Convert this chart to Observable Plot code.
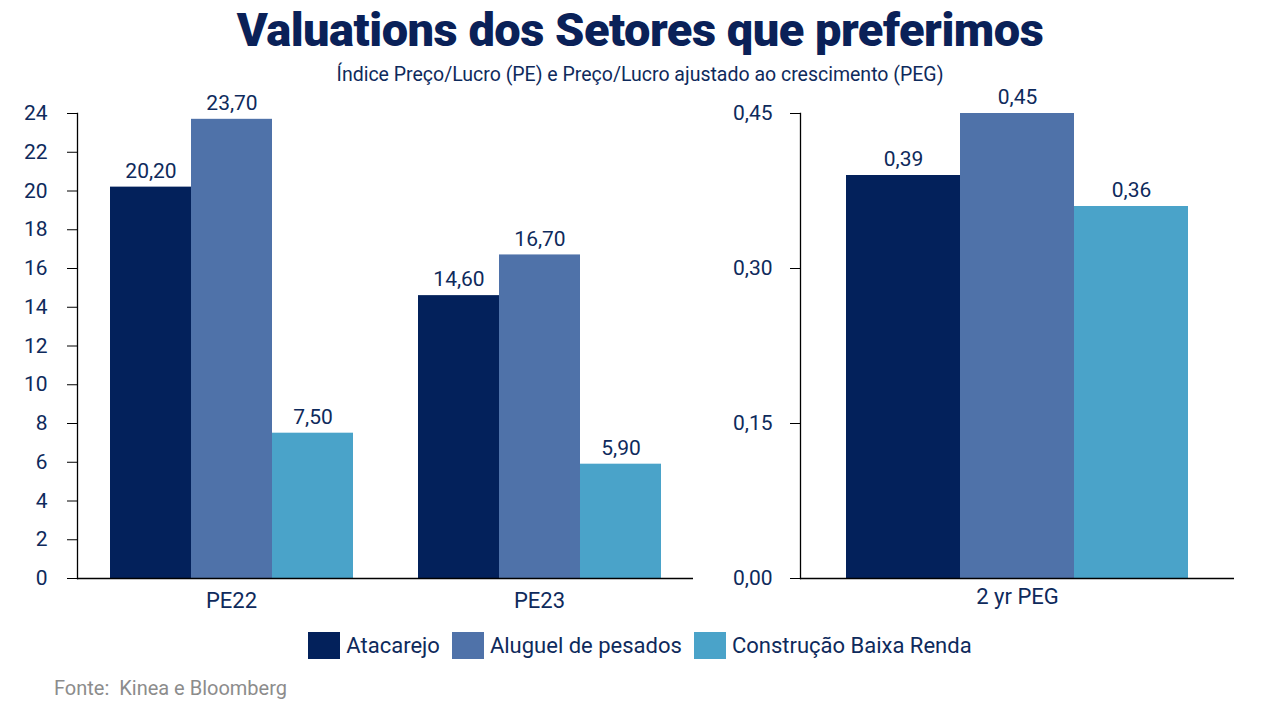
<!DOCTYPE html>
<html>
<head>
<meta charset="utf-8">
<script src="https://cdn.jsdelivr.net/npm/d3@7"></script>
<script src="https://cdn.jsdelivr.net/npm/@observablehq/plot@0.6"></script>
<style>
  html, body { margin: 0; padding: 0; background: #fff; }
  #root { position: relative; width: 1280px; height: 720px; overflow: hidden; font-family: Roboto, sans-serif; color: #0e2a5c; }
  #title { position: absolute; left: 0; width: 1280px; top: 2px; text-align: center; font-size: 47px; font-weight: 900; color: #0a2158; letter-spacing: -0.5px; }
  #subtitle { position: absolute; left: 0; width: 1280px; top: 63px; text-align: center; font-size: 19.5px; color: #0e2a5c; }
  #left { position: absolute; left: 0; top: 75px; }
  #right { position: absolute; left: 720px; top: 75px; }
  #left svg, #right svg { overflow: visible; }
  #legend { position: absolute; left: 0; width: 1280px; top: 632px; display: flex; justify-content: center; gap: 12px; font-size: 22px; color: #0e2a5c; }
  .item { display: flex; align-items: center; gap: 6px; }
  .sw { width: 32px; height: 27px; display: inline-block; }
  #source { position: absolute; left: 54px; top: 676px; font-size: 20px; color: #8c8c8c; }
</style>
</head>
<body>
<div id="root">
  <div id="title">Valuations dos Setores que preferimos</div>
  <div id="subtitle">Índice Preço/Lucro (PE) e Preço/Lucro ajustado ao crescimento (PEG)</div>
  <div id="left"></div>
  <div id="right"></div>
  <div id="legend"></div>
  <div id="source">Fonte:&nbsp; Kinea e Bloomberg</div>
</div>
<script>
// ---- data ----
const series = ["Atacarejo", "Aluguel de pesados", "Construção Baixa Renda"];
const colors = ["#03215b", "#4f72a9", "#4aa3c9"];
const peCategories = ["PE22", "PE23"];
const pe22 = [20.20, 23.70, 7.50];
const pe23 = [14.60, 16.70, 5.90];
const pegCategory = ["2 yr PEG"];
const peg = [0.39, 0.45, 0.36];
const peTicks = [0, 2, 4, 6, 8, 10, 12, 14, 16, 18, 20, 22, 24];
const pegTicks = [0, 0.15, 0.30, 0.45];

const TXT = "#0e2a5c";
const comma = d => d3.format(".2f")(d).replace(".", ",");

const peRows = [];
[pe22, pe23].forEach((vals, gi) => vals.forEach((v, si) => peRows.push({group: peCategories[gi], series: series[si], value: v})));
const pegRows = peg.map((v, si) => ({group: pegCategory[0], series: series[si], value: v}));

const left = Plot.plot({
  width: 710, height: 540,
  marginLeft: 76, marginRight: 17, marginTop: 38, marginBottom: 37,
  style: {fontFamily: "Roboto, sans-serif", fontSize: "21px", color: TXT, background: "transparent", overflow: "visible"},
  fx: {domain: peCategories, paddingInner: 0, paddingOuter: 0, label: null},
  x: {domain: series, paddingInner: 0, paddingOuter: 0.4, axis: null},
  y: {domain: [0, 24], label: null},
  color: {domain: series, range: colors},
  marks: [
    Plot.barY(peRows, {fx: "group", x: "series", y: "value", fill: "series", inset: 0}),
    Plot.text(peRows, {fx: "group", x: "series", y: "value", text: d => comma(d.value), dy: -16, fill: TXT, fontSize: 21}),
    Plot.axisY({ticks: peTicks, tickSize: 10, tickPadding: 20, fontSize: 21, fill: TXT, stroke: "#000", label: null, tickFormat: d => String(d)}),
    Plot.axisFx({anchor: "bottom", tickSize: 0, tickPadding: 14, fontSize: 22, fill: TXT, label: null}),
    Plot.ruleY([0], {stroke: "#000", strokeWidth: 1.3}),
    Plot.frame({anchor: "left", facet: "super", stroke: "#000", strokeWidth: 1.3})
  ]
});
document.getElementById("left").appendChild(left);

const right = Plot.plot({
  width: 540, height: 540,
  marginLeft: 80, marginRight: 26, marginTop: 38, marginBottom: 37,
  style: {fontFamily: "Roboto, sans-serif", fontSize: "21px", color: TXT, background: "transparent", overflow: "visible"},
  x: {domain: series, paddingInner: 0, paddingOuter: 0.4, axis: null},
  y: {domain: [0, 0.45], label: null},
  color: {domain: series, range: colors},
  marks: [
    Plot.barY(pegRows, {x: "series", y: "value", fill: "series", inset: 0}),
    Plot.text(pegRows, {x: "series", y: "value", text: d => comma(d.value), dy: -16, fill: TXT, fontSize: 21}),
    Plot.axisY({ticks: pegTicks, tickSize: 10, tickPadding: 18, fontSize: 21, fill: TXT, stroke: "#000", label: null, tickFormat: comma}),
    Plot.text(pegCategory, {text: d => d, frameAnchor: "bottom", dy: 25, fontSize: 22, fill: TXT}),
    Plot.ruleY([0], {stroke: "#000", strokeWidth: 1.3}),
    Plot.frame({anchor: "left", stroke: "#000", strokeWidth: 1.3})
  ]
});
document.getElementById("right").appendChild(right);

const legend = document.getElementById("legend");
series.forEach((s, i) => {
  const it = document.createElement("div");
  it.className = "item";
  it.innerHTML = `<span class="sw" style="background:${colors[i]}"></span><span>${s}</span>`;
  legend.appendChild(it);
});
</script>
</body>
</html>
